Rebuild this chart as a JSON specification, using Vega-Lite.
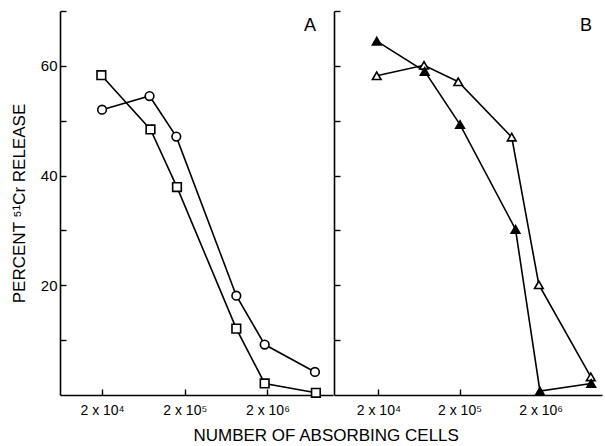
{
  "$schema": "https://vega.github.io/schema/vega-lite/v6.json",
  "padding": {"left": 10, "top": 10, "right": 2, "bottom": 2},
  "background": "white",
  "config": {
    "font": "Liberation Sans",
    "view": {"stroke": null},
    "axis": {
      "grid": false,
      "domainColor": "black",
      "domainWidth": 1.6,
      "tickColor": "black",
      "tickWidth": 1.4,
      "tickSize": -6,
      "labelColor": "black",
      "labelFontSize": 14,
      "titleColor": "black",
      "titleFontWeight": "normal",
      "titleFontSize": 17
    },
    "title": {"color": "black", "fontWeight": "normal"}
  },
  "data": {
    "values": [
      {"panel": "A", "series": "circle", "cells": 20000, "pct": 52.0},
      {"panel": "A", "series": "circle", "cells": 75000, "pct": 54.5},
      {"panel": "A", "series": "circle", "cells": 158000, "pct": 47.1},
      {"panel": "A", "series": "circle", "cells": 840000, "pct": 18.1},
      {"panel": "A", "series": "circle", "cells": 1850000, "pct": 9.2},
      {"panel": "A", "series": "circle", "cells": 7500000, "pct": 4.2},
      {"panel": "A", "series": "square", "cells": 19600, "pct": 58.3},
      {"panel": "A", "series": "square", "cells": 77000, "pct": 48.4},
      {"panel": "A", "series": "square", "cells": 161000, "pct": 37.9},
      {"panel": "A", "series": "square", "cells": 840000, "pct": 12.1},
      {"panel": "A", "series": "square", "cells": 1850000, "pct": 2.1},
      {"panel": "A", "series": "square", "cells": 7700000, "pct": 0.4},
      {"panel": "B", "series": "open triangle", "cells": 19100, "pct": 58.2},
      {"panel": "B", "series": "open triangle", "cells": 73000, "pct": 60.1},
      {"panel": "B", "series": "open triangle", "cells": 193000, "pct": 57.1},
      {"panel": "B", "series": "open triangle", "cells": 880000, "pct": 47.0},
      {"panel": "B", "series": "open triangle", "cells": 1900000, "pct": 20.1},
      {"panel": "B", "series": "open triangle", "cells": 8300000, "pct": 3.3},
      {"panel": "B", "series": "filled triangle", "cells": 19100, "pct": 64.5},
      {"panel": "B", "series": "filled triangle", "cells": 74500, "pct": 59.0},
      {"panel": "B", "series": "filled triangle", "cells": 203000, "pct": 49.3},
      {"panel": "B", "series": "filled triangle", "cells": 980000, "pct": 30.2},
      {"panel": "B", "series": "filled triangle", "cells": 1960000, "pct": 0.7},
      {"panel": "B", "series": "filled triangle", "cells": 8400000, "pct": 2.1}
    ]
  },
  "spacing": 0,
  "title": {
    "text": "NUMBER OF ABSORBING CELLS",
    "orient": "bottom",
    "anchor": "middle",
    "fontSize": 17,
    "offset": 11,
    "dx": 20
  },
  "hconcat": [
    {
      "width": 273,
      "height": 384,
      "title": {"text": "A", "anchor": "end", "offset": -25, "dx": -17, "fontSize": 18},
      "transform": [{"filter": "datum.panel === 'A'"}],
      "encoding": {
        "x": {
          "field": "cells", "type": "quantitative",
          "scale": {"type": "log", "domain": [6200, 12400000], "nice": false},
          "axis": {
            "title": null,
            "values": [20000, 200000, 2000000],
            "labelExpr": "'2 x 10' + (datum.value < 100000 ? '⁴' : datum.value < 1000000 ? '⁵' : '⁶')",
            "labelPadding": 14
          }
        },
        "y": {
          "field": "pct", "type": "quantitative",
          "scale": {"domain": [0, 70], "nice": false},
          "axis": {
            "title": "PERCENT ⁵¹Cr RELEASE",
            "values": [10, 20, 30, 40, 50, 60, 70],
            "labelExpr": "datum.value == 20 || datum.value == 40 || datum.value == 60 ? datum.label : ''",
            "labelFontSize": 15,
            "labelPadding": 9,
            "titlePadding": 12
          }
        }
      },
      "layer": [
        {
          "mark": {"type": "line", "color": "black", "strokeWidth": 1.6},
          "encoding": {"detail": {"field": "series"}}
        },
        {
          "mark": {"type": "point", "filled": true, "stroke": "black", "strokeWidth": 1.6, "size": 75, "opacity": 1},
          "encoding": {
            "shape": {"field": "series", "type": "nominal", "scale": {"domain": ["circle", "square", "open triangle", "filled triangle"], "range": ["circle", "square", "triangle-up", "triangle-up"]}, "legend": null},
            "fill": {"field": "series", "type": "nominal", "scale": {"domain": ["circle", "square", "open triangle", "filled triangle"], "range": ["white", "white", "white", "black"]}, "legend": null}
          }
        }
      ]
    },
    {
      "width": 268,
      "height": 384,
      "title": {"text": "B", "anchor": "end", "offset": -25, "dx": -10, "fontSize": 18},
      "transform": [{"filter": "datum.panel === 'B'"}],
      "encoding": {
        "x": {
          "field": "cells", "type": "quantitative",
          "scale": {"type": "log", "domain": [5680, 11400000], "nice": false},
          "axis": {
            "title": null,
            "values": [20000, 200000, 2000000],
            "labelExpr": "'2 x 10' + (datum.value < 100000 ? '⁴' : datum.value < 1000000 ? '⁵' : '⁶')",
            "labelPadding": 14
          }
        },
        "y": {
          "field": "pct", "type": "quantitative",
          "scale": {"domain": [0, 70], "nice": false},
          "axis": {
            "title": null,
            "values": [10, 20, 30, 40, 50, 60, 70],
            "labels": false
          }
        }
      },
      "layer": [
        {
          "mark": {"type": "line", "color": "black", "strokeWidth": 1.6},
          "encoding": {"detail": {"field": "series"}}
        },
        {
          "mark": {"type": "point", "filled": true, "stroke": "black", "strokeWidth": 1.6, "size": 75, "opacity": 1},
          "encoding": {
            "shape": {"field": "series", "type": "nominal", "scale": {"domain": ["circle", "square", "open triangle", "filled triangle"], "range": ["circle", "square", "triangle-up", "triangle-up"]}, "legend": null},
            "fill": {"field": "series", "type": "nominal", "scale": {"domain": ["circle", "square", "open triangle", "filled triangle"], "range": ["white", "white", "white", "black"]}, "legend": null}
          }
        }
      ]
    }
  ],
  "resolve": {"scale": {"x": "independent", "y": "shared", "shape": "shared", "fill": "shared"}}
}
